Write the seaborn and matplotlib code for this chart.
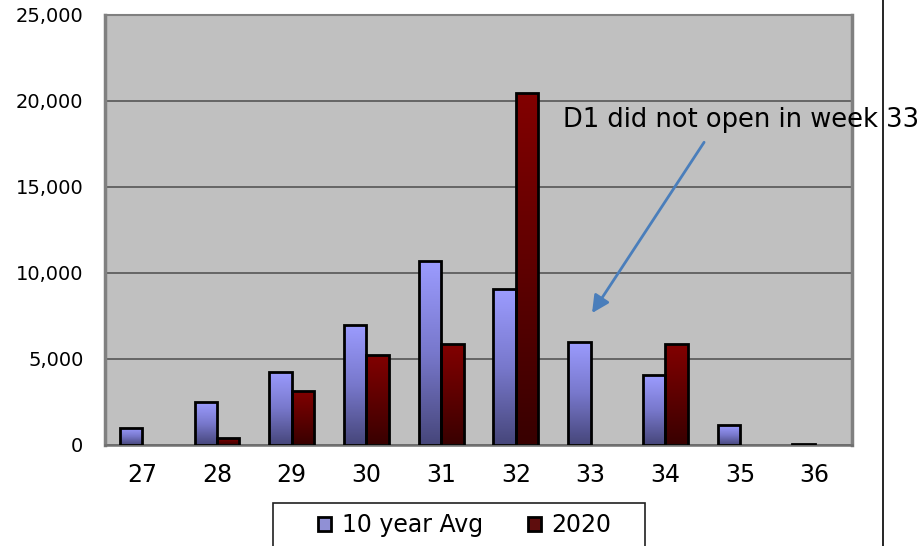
import numpy as np
import pandas as pd
import matplotlib
matplotlib.use('Agg')
import matplotlib.pyplot as plt
from matplotlib.colors import LinearSegmentedColormap
from matplotlib.lines import Line2D
from matplotlib.patches import Rectangle
from matplotlib.ticker import FuncFormatter
import seaborn as sns

# values
weeks = ['27', '28', '29', '30', '31', '32', '33', '34', '35', '36']
avg_10yr = [1000, 2500, 4250, 7000, 10700, 9050, 6000, 4050, 1150, 80]
y2020 = [np.nan, 400, 3150, 5250, 5850, 20450, np.nan, 5850, np.nan, np.nan]
series_names = ['10 year Avg', '2020']
y_ticks = [0, 5000, 10000, 15000, 20000, 25000]
note_text = 'D1 did not open in week 33'

df = pd.DataFrame({
    'week': weeks * 2,
    'count': avg_10yr + y2020,
    'series': [series_names[0]] * len(weeks) + [series_names[1]] * len(weeks),
})

sns.set_style('white')
plt.rcParams['font.family'] = ['DejaVu Sans']
plt.rcParams['text.color'] = 'black'
plt.rcParams['xtick.labelcolor'] = 'black'
plt.rcParams['ytick.labelcolor'] = 'black'

fig = plt.figure(figsize=(9.2, 5.46), dpi=100)
ax = fig.add_axes([105 / 920, 1 - 445 / 546, (852 - 105) / 920, (445 - 15) / 546])
ax.set_facecolor('#C0C0C0')

sns.barplot(data=df, x='week', y='count', hue='series', hue_order=series_names,
            order=weeks, palette=['#8585E0', '#6B0000'], width=0.6, gap=0,
            edgecolor='black', linewidth=2, ax=ax, zorder=3)

handles, labels = ax.get_legend_handles_labels()
if ax.get_legend() is not None:
    ax.get_legend().remove()

# gradient fill inside each bar (light top -> dark bottom)
cmaps = [LinearSegmentedColormap.from_list('blu', ['#46467A', '#7878CC', '#9C9CFF']),
         LinearSegmentedColormap.from_list('red', ['#380000', '#5E0000', '#820000'])]
grad = np.linspace(0, 1, 256).reshape(-1, 1)
for cont, cmap in zip(ax.containers, cmaps):
    for bar in cont:
        h = bar.get_height()
        if not np.isfinite(h) or h <= 0:
            continue
        x0, w = bar.get_x(), bar.get_width()
        im = ax.imshow(grad, cmap=cmap, origin='lower', aspect='auto',
                       extent=[x0, x0 + w, 0, h], zorder=2.5, interpolation='bilinear')
        im.set_clip_path(bar)
        bar.set_facecolor('none')

ax.set_xlim(-0.5, len(weeks) - 0.5)
ax.set_ylim(0, 25000)
ax.set_yticks(y_ticks)
ax.yaxis.set_major_formatter(FuncFormatter(lambda v, p: f'{int(v):,}'))
ax.set_xlabel('')
ax.set_ylabel('')

ax.grid(axis='y', color='#5E5E5E', linewidth=1.3)
ax.set_axisbelow(True)

ax.set_xticks(np.arange(len(weeks)))
ax.set_xticklabels(weeks)
ax.set_xticks(np.arange(-0.5, len(weeks), 1), minor=True)
ax.tick_params(axis='x', which='major', length=0, pad=13, labelsize=17, labelcolor='black')
ax.tick_params(axis='x', which='minor', length=6, width=1.2, color='#404040', direction='out')
ax.tick_params(axis='y', length=4.5, width=1.2, color='#404040', direction='out',
               pad=11, labelsize=14, labelcolor='black')

for side in ['left', 'right']:
    ax.spines[side].set_color('#808080')
    ax.spines[side].set_linewidth(2.5)
ax.spines['top'].set_color('#808080')
ax.spines['top'].set_linewidth(1.5)
ax.spines['bottom'].set_color('#707070')
ax.spines['bottom'].set_linewidth(1.8)

# annotation arrow pointing at week 33
ax.annotate('', xy=(6.02, 7670), xytext=(7.52, 17600),
            arrowprops=dict(arrowstyle='-|>', color='#4A7EBB', lw=2,
                            mutation_scale=26, shrinkA=0, shrinkB=0),
            annotation_clip=False, zorder=5)
fig.text(563 / 920, 1 - 127 / 546, note_text, fontsize=18.5, ha='left', va='baseline',
         color='black')

# legend box at the bottom (cut by the canvas edge)
fig.add_artist(Rectangle((273 / 920, -0.05), (645 - 273) / 920, 0.05 + (546 - 503) / 546,
                         transform=fig.transFigure, fill=False, edgecolor='#202020', lw=1.2))
fig.legend(handles, labels, loc='center left', bbox_to_anchor=(318 / 920, 1 - 525 / 546),
           ncol=2, frameon=False, fontsize=17, handlelength=0.55, handleheight=0.55,
           handletextpad=0.45, columnspacing=1.9, borderpad=0, borderaxespad=0,
           labelcolor='black')

# thin slide divider line on the right
fig.add_artist(Line2D([883 / 920, 883 / 920], [0, 1], transform=fig.transFigure,
                      color='black', lw=1.2))

fig.savefig('out.png', dpi=100)
